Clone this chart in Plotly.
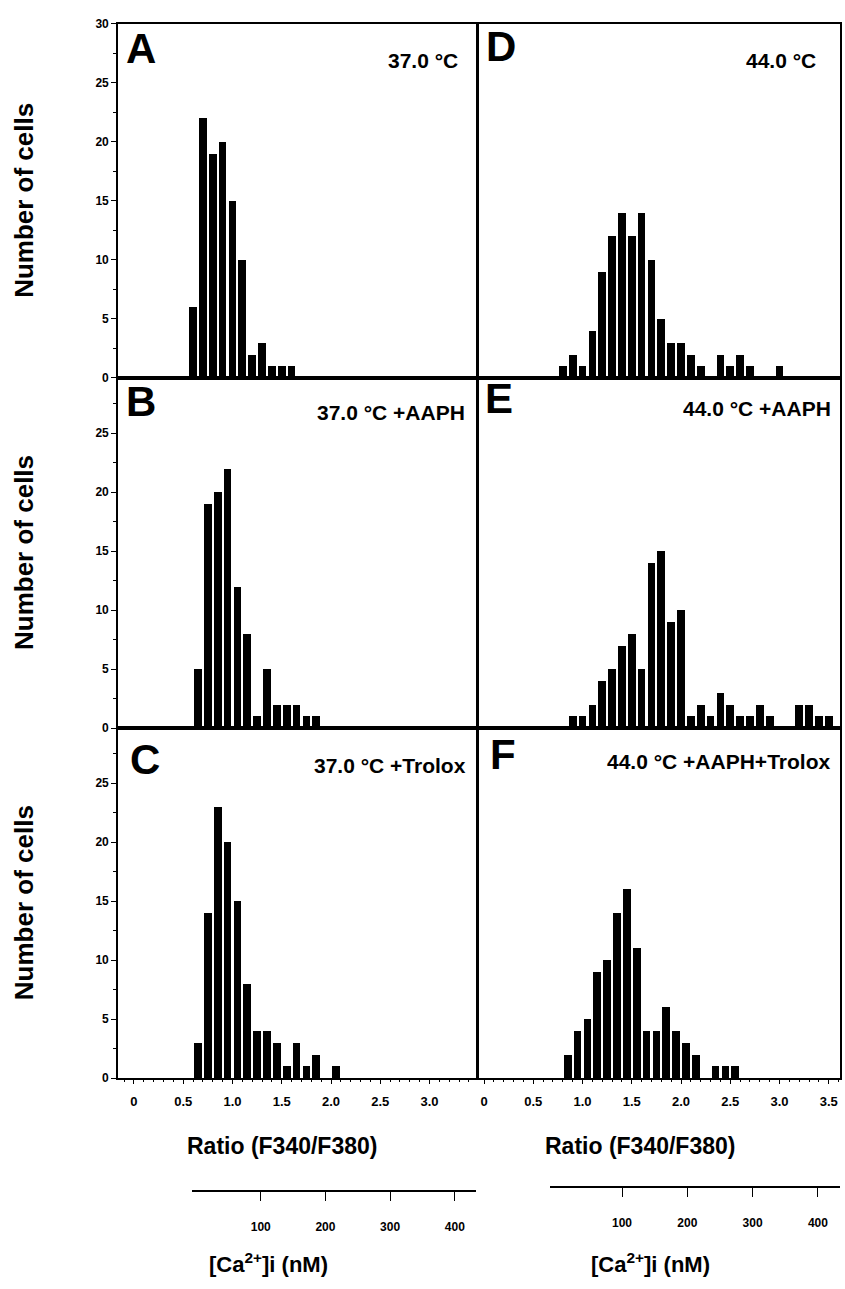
import plotly.graph_objects as go

W, H = 845, 1289
FONT = "Liberation Sans, Arial, sans-serif"

# ---------------- data ----------------
a_ratio = [0.6, 0.7, 0.8, 0.9, 1.0, 1.1, 1.2, 1.3, 1.4, 1.5, 1.6]
a_cells = [6, 22, 19, 20, 15, 10, 2, 3, 1, 1, 1]

b_ratio = [0.65, 0.75, 0.85, 0.95, 1.05, 1.15, 1.25, 1.35, 1.45, 1.55, 1.65, 1.75, 1.85]
b_cells = [5, 19, 20, 22, 12, 8, 1, 5, 2, 2, 2, 1, 1]

c_ratio = [0.65, 0.75, 0.85, 0.95, 1.05, 1.15, 1.25, 1.35, 1.45, 1.55, 1.65, 1.75, 1.85, 1.95, 2.05]
c_cells = [3, 14, 23, 20, 15, 8, 4, 4, 3, 1, 3, 1, 2, 0, 1]

d_ratio = [0.8, 0.9, 1.0, 1.1, 1.2, 1.3, 1.4, 1.5, 1.6, 1.7, 1.8, 1.9, 2.0, 2.1, 2.2, 2.3,
           2.4, 2.5, 2.6, 2.7, 2.8, 2.9, 3.0]
d_cells = [1, 2, 1, 4, 9, 12, 14, 12, 14, 10, 5, 3, 3, 2, 1, 0, 2, 1, 2, 1, 0, 0, 1]

e_ratio = [0.9, 1.0, 1.1, 1.2, 1.3, 1.4, 1.5, 1.6, 1.7, 1.8, 1.9, 2.0, 2.1, 2.2, 2.3, 2.4,
           2.5, 2.6, 2.7, 2.8, 2.9, 3.0, 3.1, 3.2, 3.3, 3.4, 3.5]
e_cells = [1, 1, 2, 4, 5, 7, 8, 5, 14, 15, 9, 10, 1, 2, 1, 3, 2, 1, 1, 2, 1, 0, 0, 2, 2, 1, 1]

f_ratio = [0.85, 0.95, 1.05, 1.15, 1.25, 1.35, 1.45, 1.55, 1.65, 1.75, 1.85, 1.95, 2.05,
           2.15, 2.25, 2.35, 2.45, 2.55]
f_cells = [2, 4, 5, 9, 10, 14, 16, 11, 4, 4, 6, 4, 3, 2, 0, 1, 1, 1]

panel_letters = ["A", "B", "C", "D", "E", "F"]
panel_conditions = ["37.0 °C", "37.0 °C +AAPH", "37.0 °C +Trolox",
                    "44.0 °C", "44.0 °C +AAPH", "44.0 °C +AAPH+Trolox"]

ratio_ticks_left = [0, 0.5, 1.0, 1.5, 2.0, 2.5, 3.0]
ratio_text_left = ["0", "0.5", "1.0", "1.5", "2.0", "2.5", "3.0"]
ratio_ticks_right = [0, 0.5, 1.0, 1.5, 2.0, 2.5, 3.0, 3.5]
ratio_text_right = ["0", "0.5", "1.0", "1.5", "2.0", "2.5", "3.0", "3.5"]
ca_ticks = [100, 200, 300, 400]
y_ticks_top = [0, 5, 10, 15, 20, 25, 30]
y_ticks_low = [0, 5, 10, 15, 20, 25]

series = [(a_ratio, a_cells), (b_ratio, b_cells), (c_ratio, c_cells),
          (d_ratio, d_cells), (e_ratio, e_cells), (f_ratio, f_cells)]

# ---------------- layout geometry (pixels) ----------------
def px(x):
    return x / W

def py(y):
    return 1 - y / H

col_x = [(118, 477), (478, 840)]
row_y = [(17, 375), (375, 729), (729, 1083)]
y_ranges = [[0, 30], [0, 29.67], [0, 29.67]]
x_ranges = [[-0.162, 3.482], [-0.061, 3.614]]
label_right = [460, 467, 468, 818, 833, 832]
label_mid = [54, 410, 767, 54, 406, 763]
letter_left = [124, 124, 128, 484, 483, 488]
letter_top = [16, 373, 735, 14, 370, 730]

fig = go.Figure()
layout = dict(
    width=W, height=H, margin=dict(l=0, r=0, t=0, b=0),
    paper_bgcolor="white", plot_bgcolor="white", showlegend=False,
    bargap=0, font=dict(family=FONT, color="black"),
)

annotations = []
for i, (xs, ys) in enumerate(series):
    col = i // 3
    row = i % 3
    n = i + 1
    xa = "xaxis" if n == 1 else f"xaxis{n}"
    ya = "yaxis" if n == 1 else f"yaxis{n}"
    xr = "x" if n == 1 else f"x{n}"
    yr = "y" if n == 1 else f"y{n}"
    fig.add_trace(go.Bar(x=xs, y=ys, xaxis=xr, yaxis=yr, width=0.078,
                         marker=dict(color="black", line=dict(width=0)),
                         hoverinfo="x+y"))
    bottom = row == 2
    xaxis = dict(domain=[px(col_x[col][0]), px(col_x[col][1])], anchor=yr,
                 range=x_ranges[col], showline=True, mirror=True,
                 linecolor="black", linewidth=1.6, showgrid=False, zeroline=False,
                 ticks="outside" if bottom else "", ticklen=4, tickwidth=1.2,
                 tickcolor="black", showticklabels=bottom,
                 tickvals=ratio_ticks_left if col == 0 else ratio_ticks_right,
                 ticktext=ratio_text_left if col == 0 else ratio_text_right,
                 tickfont=dict(family=FONT, size=13, color="black", weight="bold"),
                 ticklabelstandoff=6)
    if bottom:
        xaxis["minor"] = dict(ticks="outside", dtick=0.1, tick0=0, ticklen=2,
                              tickcolor="black", tickwidth=1)
    left = col == 0
    yaxis = dict(domain=[py(row_y[row][1]), py(row_y[row][0])], anchor=xr,
                 range=y_ranges[row], showline=True, mirror=True,
                 linecolor="black", linewidth=1.6, showgrid=False, zeroline=False,
                 ticks="outside" if left else "", ticklen=5, tickwidth=1.4,
                 tickcolor="black", showticklabels=left,
                 tickvals=y_ticks_top if row == 0 else y_ticks_low,
                 tickfont=dict(family=FONT, size=12, color="black", weight="bold"))
    if left:
        yaxis["minor"] = dict(ticks="outside", dtick=2.5, tick0=0, ticklen=3,
                              tickcolor="black", tickwidth=1)
    layout[xa] = xaxis
    layout[ya] = yaxis

    # panel letter
    annotations.append(dict(text=f"<b>{panel_letters[i]}</b>", xref="paper", yref="paper",
                            x=px(letter_left[i]), y=py(letter_top[i]),
                            xanchor="left", yanchor="top", showarrow=False,
                            font=dict(family=FONT, size=42, color="black")))
    # condition label
    annotations.append(dict(text=f"<b>{panel_conditions[i]}</b>", xref="paper", yref="paper",
                            x=px(label_right[i]), y=py(label_mid[i]),
                            xanchor="right", yanchor="middle", showarrow=False,
                            font=dict(family=FONT, size=21, color="black")))

# y titles
for row in range(3):
    cy = (row_y[row][0] + row_y[row][1]) / 2
    annotations.append(dict(text="<b>Number of cells</b>", xref="paper", yref="paper",
                            x=px(24), y=py(cy), xanchor="center", yanchor="middle",
                            textangle=-90, showarrow=False,
                            font=dict(family=FONT, size=26, color="black")))

# x titles
for cx in (282, 640):
    annotations.append(dict(text="<b>Ratio (F340/F380)</b>", xref="paper", yref="paper",
                            x=px(cx), y=py(1152), xanchor="center", yanchor="middle",
                            showarrow=False,
                            font=dict(family=FONT, size=23, color="black")))
for cx in (268, 650):
    annotations.append(dict(text="<b>[Ca<sup>2+</sup>]i (nM)</b>", xref="paper", yref="paper",
                            x=px(cx), y=py(1270), xanchor="center", yanchor="middle",
                            showarrow=False,
                            font=dict(family=FONT, size=22, color="black")))

# [Ca2+]i scale axes (linear, drawn as separate axes)
ca_axes = [
    dict(dom=(192, 476), line_y=1196, rng=[-6.2, 432.7]),
    dict(dom=(550, 840), line_y=1192, rng=[-10.3, 433.8]),
]
for k, ca in enumerate(ca_axes):
    n = 7 + k
    fig.add_trace(go.Scatter(x=ca_ticks, y=[0] * len(ca_ticks), xaxis=f"x{n}", yaxis=f"y{n}",
                             mode="markers", marker=dict(opacity=0), hoverinfo="skip"))
    layout[f"xaxis{n}"] = dict(domain=[px(ca["dom"][0]), px(ca["dom"][1])], anchor=f"y{n}",
                               range=ca["rng"], showline=True, linecolor="black",
                               linewidth=1.5, showgrid=False, zeroline=False,
                               ticks="outside", ticklen=9, tickwidth=1.2, tickcolor="black",
                               tickvals=ca_ticks, ticklabelstandoff=16,
                               tickfont=dict(family=FONT, size=12, color="black",
                                             weight="bold"))
    yb = py(ca["line_y"])
    layout[f"yaxis{n}"] = dict(domain=[yb, yb + 0.004], anchor=f"x{n}", visible=False,
                               range=[0, 1])

layout["annotations"] = annotations
fig.update_layout(**layout)
fig.write_html("out.html",
               config={"displayModeBar": False},
               post_script="document.body.style.margin='0';"
                           "document.body.style.overflow='hidden';")
